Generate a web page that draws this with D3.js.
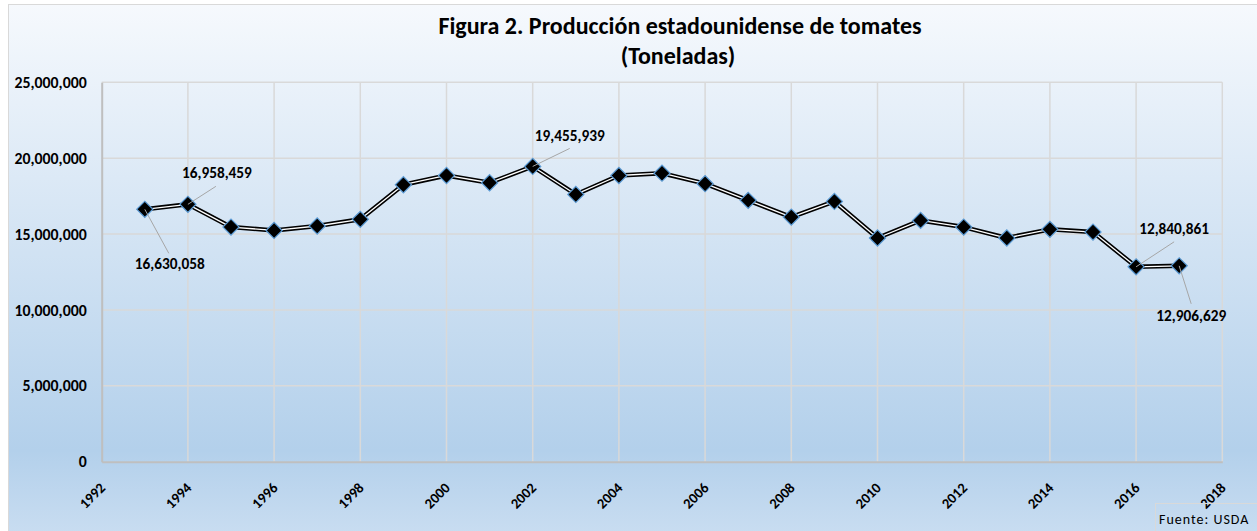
<!DOCTYPE html>
<html>
<head>
<meta charset="utf-8">
<script src="https://cdn.jsdelivr.net/npm/d3@7"></script>
<style>
  html, body { margin: 0; padding: 0; background: #ffffff; }
  svg { display: block; }
  text { font-family: Calibri, Carlito, Lato, "Open Sans", sans-serif; }
</style>
</head>
<body>
<script>
// ---- data ----
const years = [1993,1994,1995,1996,1997,1998,1999,2000,2001,2002,2003,2004,2005,2006,2007,2008,2009,2010,2011,2012,2013,2014,2015,2016,2017];
const production = [16630058,16958459,15460000,15240000,15530000,15970000,18250000,18860000,18380000,19455939,17610000,18860000,19010000,18320000,17220000,16120000,17150000,14740000,15900000,15460000,14740000,15310000,15130000,12840861,12906629];
const yTicks = [0,5000000,10000000,15000000,20000000,25000000];
const xTicks = [1992,1994,1996,1998,2000,2002,2004,2006,2008,2010,2012,2014,2016,2018];
const titleLines = ["Figura 2. Producción estadounidense de tomates", "(Toneladas)"];
const sourceText = "Fuente: USDA";
// labelled points: year, and label offset (dx, dy) of text centre/baseline and leader end
const labelled = [
  {year:1993, dx:25, dy:60, lx:24, ly:44},
  {year:1994, dx:29, dy:-26, lx:28, ly:-18},
  {year:2002, dx:37, dy:-25, lx:37, ly:-18},
  {year:2016, dx:38, dy:-33, lx:38, ly:-25},
  {year:2017, dx:12, dy:55, lx:12, ly:38}
];

const W = 1257, H = 531;
const margin = {left: 101.7, right: W - 1222.3, top: 82.3, bottom: H - 461.7};
const FONT = "Calibri, Carlito, Lato, sans-serif";

const svg = d3.select("body").append("svg").attr("width", W).attr("height", H);
const defs = svg.append("defs");
const grad = defs.append("linearGradient").attr("id","bg").attr("x1",0).attr("y1",0).attr("x2",0).attr("y2",1);
grad.append("stop").attr("offset","0%").attr("stop-color","#f6f9fd");
grad.append("stop").attr("offset","84%").attr("stop-color","#b3d0eb");
grad.append("stop").attr("offset","100%").attr("stop-color","#c9ddf1");

// chart area
svg.append("rect").attr("x",8.5).attr("y",4.5).attr("width",W).attr("height",H)
  .attr("fill","url(#bg)").attr("stroke","#d9d9d9").attr("stroke-width",1);

const x = d3.scaleLinear().domain([1992,2018]).range([margin.left, W - margin.right]);
const y = d3.scaleLinear().domain([0,25000000]).range([H - margin.bottom, margin.top]);

// gridlines
const grid = svg.append("g");
grid.selectAll(".hg").data(yTicks.filter(d=>d>0)).join("line")
  .attr("x1", x(1992)).attr("x2", x(2018)).attr("y1", d=>y(d)).attr("y2", d=>y(d))
  .attr("stroke","#d9d9d9").attr("stroke-width",1.5);
grid.selectAll(".vg").data(xTicks.filter(d=>d>1992)).join("line")
  .attr("y1", y(0)).attr("y2", y(25000000)).attr("x1", d=>x(d)).attr("x2", d=>x(d))
  .attr("stroke","#d9d9d9").attr("stroke-width",1.5);

// axes
const yAxis = svg.append("g").attr("transform",`translate(${x(1992)},0)`)
  .call(d3.axisLeft(y).tickValues(yTicks).tickSize(0).tickPadding(15).tickFormat(d3.format(",")));
yAxis.select(".domain").attr("stroke","#bfbfbf").attr("stroke-width",2);
yAxis.selectAll("text").attr("font-size",15.8).attr("font-weight","bold").attr("fill","#000")
  .style("font-family",FONT);

const xAxis = svg.append("g").attr("transform",`translate(0,${y(0)})`)
  .call(d3.axisBottom(x).tickValues(xTicks).tickSize(0).tickFormat(d3.format("d")));
xAxis.select(".domain").attr("stroke","#bfbfbf").attr("stroke-width",2);
xAxis.selectAll("text").attr("font-size",14.5).attr("font-weight","bold").attr("fill","#000")
  .style("font-family",FONT)
  .attr("text-anchor","end").attr("dy",0).attr("y",0)
  .attr("transform","translate(4,27) rotate(-45)");

// line (double/compound line: black with white core)
const line = d3.line().x((d,i)=>x(years[i])).y(d=>y(d));
svg.append("path").datum(production).attr("d", line)
  .attr("fill","none").attr("stroke","#000").attr("stroke-width",4.5).attr("stroke-linejoin","round");
svg.append("path").datum(production).attr("d", line)
  .attr("fill","none").attr("stroke","#fff").attr("stroke-width",1.3).attr("stroke-linejoin","round");

// markers
svg.append("g").selectAll("path").data(production).join("path")
  .attr("transform",(d,i)=>`translate(${x(years[i])},${y(d)}) rotate(45)`)
  .attr("d", d3.symbol().type(d3.symbolSquare).size(130))
  .attr("fill","#000").attr("stroke","#5b9bd5").attr("stroke-width",1.2);

// data labels
const lab = svg.append("g");
labelled.forEach(l => {
  const i = years.indexOf(l.year);
  const px = x(years[i]), py = y(production[i]);
  lab.append("line").attr("x1",px).attr("y1",py).attr("x2",px+l.lx).attr("y2",py+l.ly)
    .attr("stroke","#a6a6a6").attr("stroke-width",1);
  lab.append("text").attr("x",px+l.dx).attr("y",py+l.dy).attr("text-anchor","middle")
    .attr("font-size",15.3).attr("font-weight","bold").attr("fill","#000")
    .text(d3.format(",")(production[i]));
});

// title
svg.append("text").attr("x",680).attr("y",34).attr("text-anchor","middle")
  .attr("font-size",24).attr("font-weight","bold").attr("fill","#000").text(titleLines[0]);
svg.append("text").attr("x",678).attr("y",64).attr("text-anchor","middle")
  .attr("font-size",24).attr("font-weight","bold").attr("fill","#000").text(titleLines[1]);

// source box
svg.append("rect").attr("x",1155.5).attr("y",503.5).attr("width",110).attr("height",40)
  .attr("fill","none").attr("stroke","#d9d9d9").attr("stroke-width",1);
svg.append("text").attr("x",1159).attr("y",524).attr("font-size",14).attr("fill","#000")
  .attr("letter-spacing",1).text(sourceText);
</script>
</body>
</html>
